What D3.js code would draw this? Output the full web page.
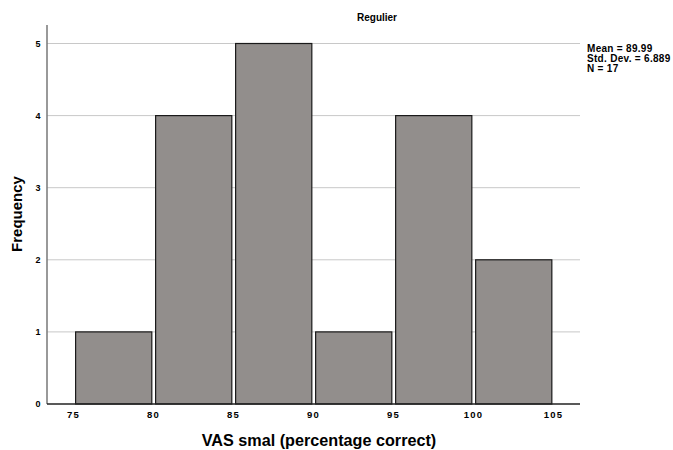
<!DOCTYPE html>
<html><head><meta charset="utf-8">
<script src="https://cdn.jsdelivr.net/npm/d3@7"></script>
<style>
body{margin:0;background:#fff;}
text{font-family:"Liberation Sans",Arial,sans-serif;font-weight:bold;fill:#000;}
</style></head>
<body><svg id="c" width="673" height="450"></svg>
<script>
const binStarts = [75, 80, 85, 90, 95, 100];
const binEnds = [80, 85, 90, 95, 100, 105];
const counts = [1, 4, 5, 1, 4, 2];
const xTicks = [75, 80, 85, 90, 95, 100, 105];
const yTicks = [0, 1, 2, 3, 4, 5];
const statLines = ["Mean = 89.99", "Std. Dev. = 6.889", "N = 17"];
const chartTitle = "Regulier";
const xTitle = "VAS smal (percentage correct)";
const yTitle = "Frequency";

const svg = d3.select("#c");
const pLeft = 47, pRight = 580, pTop = 25, pBottom = 404;
const x = d3.scaleLinear().domain([73.4, 106.71]).range([pLeft, pRight]);
const y = d3.scaleLinear().domain([0, 5]).range([pBottom, 43.5]);

// gridlines
svg.append("g").selectAll("line").data(yTicks.filter(d => d > 0)).join("line")
  .attr("x1", pLeft).attr("x2", pRight)
  .attr("y1", d => y(d)).attr("y2", d => y(d))
  .attr("stroke", "#c8c8c8").attr("stroke-width", 1);

// bars
svg.append("g").selectAll("rect").data(counts).join("rect")
  .attr("x", (d, i) => x(binStarts[i]) + 3)
  .attr("width", (d, i) => x(binEnds[i]) - x(binStarts[i]) - 3.8)
  .attr("y", d => y(d))
  .attr("height", d => y(0) - y(d))
  .attr("fill", "#928e8c").attr("stroke", "#1a1a1a").attr("stroke-width", 1.2);

// y axis line
svg.append("line").attr("x1", pLeft).attr("x2", pLeft).attr("y1", pTop).attr("y2", pBottom)
  .attr("stroke", "#777").attr("stroke-width", 1.5);
// x axis line
svg.append("line").attr("x1", pLeft).attr("x2", pRight).attr("y1", pBottom).attr("y2", pBottom)
  .attr("stroke", "#222").attr("stroke-width", 1.5);

// y tick labels
svg.append("g").selectAll("text").data(yTicks).join("text")
  .attr("x", 40.5).attr("y", d => y(d)).attr("dy", "0.35em")
  .attr("text-anchor", "end").attr("font-size", 9).text(d => d);

// x tick labels
svg.append("g").selectAll("text").data(xTicks).join("text")
  .attr("x", d => x(d) + 0.8).attr("y", 418)
  .attr("text-anchor", "middle").attr("font-size", 9.5)
  .attr("letter-spacing", "1.2px").text(d => d);

// titles
svg.append("text").attr("x", 377).attr("y", 20.5).attr("text-anchor", "middle")
  .attr("font-size", 10).text(chartTitle);
svg.append("text").attr("x", 319).attr("y", 445.5).attr("text-anchor", "middle")
  .attr("font-size", 16.2).text(xTitle);
svg.append("text").attr("transform", "translate(22,214) rotate(-90)")
  .attr("text-anchor", "middle").attr("font-size", 15).text(yTitle);

// stats
svg.append("g").selectAll("text").data(statLines).join("text")
  .attr("x", 587).attr("y", (d, i) => 51.5 + i * 10)
  .attr("font-size", 10).attr("letter-spacing", "0.3px").text(d => d);
</script></body></html>
